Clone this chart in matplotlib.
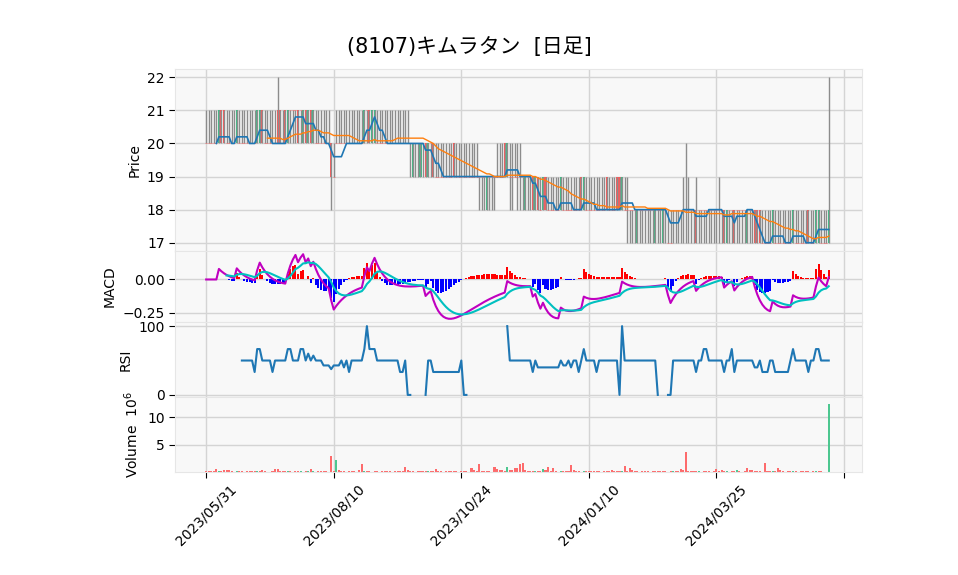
import matplotlib
matplotlib.use('Agg')
import matplotlib.pyplot as plt
import matplotlib.ticker as mticker
import numpy as np
import pandas as pd

plt.rcParams['font.family'] = ['DejaVu Sans', 'Noto Sans CJK JP']

title = '(8107)キムラタン  [日足]'
tick_pos = [0, 50, 100, 150, 200, 250]
tick_labels = ['2023/05/31', '2023/08/10', '2023/10/24', '2024/01/10', '2024/03/25', '']

# daily prices (yen)
opens = [
    20, 20, 20, 20, 20, 20, 21, 21, 20, 20, 20, 20, 20, 20, 20, 20, 20, 20, 20, 20,
    20, 20, 21, 20, 20, 20, 20, 20, 21, 21, 20, 21, 20, 21, 21, 21, 21, 21, 20, 21,
    20, 21, 20, 20, 20, 20, 20, 20, 20, 20, 19, 20, 20, 20, 20, 20, 20, 20, 20, 20,
    20, 20, 20, 21, 21, 20, 20, 20, 20, 20, 20, 20, 20, 20, 20, 20, 20, 20, 20, 20,
    20, 19, 20, 20, 19, 20, 20, 19, 20, 20, 19, 19, 19, 19, 19, 19, 19, 20, 19, 19,
    19, 19, 19, 19, 19, 19, 19, 19, 19, 19, 18, 19, 19, 19, 19, 19, 19, 20, 19, 19,
    19, 19, 19, 19, 19, 18, 19, 19, 19, 18, 19, 18, 18, 19, 18, 18, 18, 18, 18, 18,
    18, 18, 18, 18, 18, 18, 18, 19, 18, 18, 18, 18, 18, 18, 18, 18, 18, 19, 18, 18,
    18, 19, 19, 18, 18, 18, 18, 18, 18, 17, 18, 18, 18, 18, 18, 18, 17, 18, 18, 17,
    18, 17, 17, 18, 18, 18, 18, 18, 18, 18, 18, 18, 18, 18, 18, 18, 18, 18, 18, 18,
    18, 18, 18, 18, 17, 18, 18, 18, 18, 18, 18, 18, 17, 18, 18, 18, 18, 18, 17, 17,
    17, 17, 17, 17, 17, 17, 17, 17, 17, 17, 17, 17, 17, 17, 17, 17, 18, 17, 17, 17,
    17, 17, 17, 17, 17,
]
highs = [
    21, 21, 21, 21, 21, 21, 21, 21, 21, 21, 21, 21, 21, 21, 21, 21, 21, 21, 21, 21,
    21, 21, 21, 21, 21, 21, 21, 21, 22, 21, 21, 21, 21, 21, 21, 21, 21, 21, 21, 21,
    21, 21, 21, 21, 21, 21, 21, 21, 21, 20, 20, 21, 21, 21, 21, 21, 21, 21, 21, 21,
    21, 21, 21, 21, 21, 21, 21, 21, 21, 21, 21, 21, 21, 21, 21, 21, 21, 21, 21, 21,
    20, 20, 20, 20, 20, 20, 20, 20, 20, 20, 20, 20, 20, 20, 20, 20, 20, 20, 20, 20,
    20, 20, 20, 20, 20, 20, 20, 19, 19, 19, 19, 19, 19, 19, 20, 20, 20, 20, 20, 20,
    20, 20, 20, 20, 19, 19, 19, 19, 19, 19, 19, 19, 19, 19, 19, 19, 19, 19, 19, 19,
    19, 19, 19, 19, 19, 19, 19, 19, 19, 19, 19, 19, 19, 19, 19, 19, 19, 19, 19, 19,
    19, 19, 19, 19, 19, 19, 18, 18, 18, 18, 18, 18, 18, 18, 18, 18, 18, 18, 18, 18,
    18, 18, 18, 18, 18, 18, 18, 19, 20, 19, 18, 18, 19, 18, 18, 18, 18, 18, 18, 18,
    18, 19, 18, 18, 18, 18, 18, 18, 18, 18, 18, 18, 18, 18, 18, 18, 18, 18, 18, 18,
    18, 18, 18, 18, 18, 18, 18, 18, 18, 18, 18, 18, 18, 18, 18, 18, 18, 18, 18, 18,
    18, 18, 18, 18, 22,
]
lows = [
    20, 20, 20, 20, 20, 20, 20, 20, 20, 20, 20, 20, 20, 20, 20, 20, 20, 20, 20, 20,
    20, 20, 20, 20, 20, 20, 20, 20, 20, 20, 20, 20, 20, 20, 20, 20, 20, 20, 20, 20,
    20, 20, 20, 20, 20, 20, 20, 20, 20, 18, 19, 20, 20, 20, 20, 20, 20, 20, 20, 20,
    20, 20, 20, 20, 20, 20, 20, 20, 20, 20, 20, 20, 20, 20, 20, 20, 20, 20, 20, 20,
    19, 19, 19, 19, 19, 19, 19, 19, 19, 19, 19, 19, 19, 19, 19, 19, 19, 19, 19, 19,
    19, 19, 19, 19, 19, 19, 19, 18, 18, 18, 18, 18, 18, 18, 19, 19, 19, 19, 19, 18,
    18, 19, 18, 18, 18, 18, 18, 18, 18, 18, 18, 18, 18, 18, 18, 18, 18, 18, 18, 18,
    18, 18, 18, 18, 18, 18, 18, 18, 18, 18, 18, 18, 18, 18, 18, 18, 18, 18, 18, 18,
    18, 18, 18, 18, 18, 17, 17, 17, 17, 17, 17, 17, 17, 17, 17, 17, 17, 17, 17, 17,
    17, 17, 17, 17, 17, 17, 17, 17, 17, 17, 17, 17, 17, 17, 17, 17, 17, 17, 17, 17,
    17, 17, 17, 17, 17, 17, 17, 17, 17, 17, 17, 17, 17, 17, 17, 17, 17, 17, 17, 17,
    17, 17, 17, 17, 17, 17, 17, 17, 17, 17, 17, 17, 17, 17, 17, 17, 17, 17, 17, 17,
    17, 17, 17, 17, 17,
]
closes = [
    20, 20, 20, 20, 20, 21, 20, 20, 20, 20, 20, 20, 21, 20, 20, 20, 20, 20, 20, 20,
    21, 21, 20, 20, 20, 20, 20, 20, 20, 20, 20, 20, 21, 21, 21, 21, 20, 21, 21, 20,
    21, 20, 21, 20, 20, 20, 20, 20, 20, 19, 19, 20, 20, 20, 20, 20, 20, 20, 20, 20,
    20, 20, 21, 21, 20, 21, 21, 20, 20, 20, 20, 20, 20, 20, 20, 20, 20, 20, 20, 20,
    20, 20, 20, 20, 20, 20, 19, 20, 20, 19, 19, 19, 19, 19, 19, 19, 19, 19, 19, 19,
    19, 19, 19, 19, 19, 19, 19, 19, 19, 19, 19, 19, 19, 19, 19, 19, 19, 19, 20, 19,
    19, 19, 19, 19, 19, 19, 19, 19, 18, 19, 18, 18, 19, 18, 18, 18, 18, 18, 18, 19,
    18, 18, 18, 18, 18, 18, 18, 18, 19, 18, 18, 18, 18, 18, 18, 18, 18, 18, 18, 18,
    18, 18, 18, 19, 18, 18, 18, 18, 18, 18, 18, 18, 18, 18, 18, 18, 18, 18, 18, 18,
    18, 17, 17, 18, 18, 18, 18, 18, 18, 18, 18, 18, 17, 18, 18, 18, 18, 18, 18, 18,
    18, 18, 18, 17, 18, 18, 18, 17, 18, 18, 18, 18, 18, 18, 18, 17, 17, 17, 17, 17,
    17, 17, 18, 17, 17, 17, 17, 17, 17, 17, 18, 17, 17, 17, 17, 17, 17, 17, 17, 18,
    18, 17, 17, 17, 18,
]
# volume in millions of shares
volumes = [
    0.2, 0.2, 0.2, 0.25, 0.5, 0.3, 0.2, 0.35, 0.35, 0.35, 0.2, 0.12, 0.25, 0.3, 0.2, 0.12, 0.2, 0.3, 0.2, 0.3,
    0.2, 0.2, 0.35, 0.2, 0.12, 0.12, 0.2, 0.55, 0.55, 0.2, 0.3, 0.2, 0.2, 0.2, 0.12, 0.2, 0.2, 0.2, 0.12, 0.2,
    0.2, 0.55, 0.3, 0.12, 0.2, 0.3, 0.3, 0.2, 0.12, 3.0, 0.2, 2.25, 0.4, 0.2, 0.2, 0.12, 0.2, 0.3, 0.2, 0.12,
    0.45, 1.55, 0.2, 0.2, 0.2, 0.12, 0.2, 0.2, 0.12, 0.2, 0.3, 0.2, 0.2, 0.12, 0.2, 0.2, 0.3, 0.2, 0.9, 0.35,
    0.2, 0.2, 0.12, 0.2, 0.2, 0.2, 0.3, 0.2, 0.2, 0.2, 0.55, 0.2, 0.2, 0.12, 0.2, 0.2, 0.2, 0.3, 0.2, 0.12,
    0.3, 0.2, 0.2, 0.12, 0.7, 0.45, 0.2, 1.4, 0.3, 0.2, 0.2, 0.2, 0.12, 0.9, 0.55, 0.35, 0.35, 0.3, 0.9, 0.45,
    0.45, 0.7, 0.7, 1.4, 1.7, 0.35, 0.2, 0.2, 0.3, 0.2, 0.2, 0.2, 0.55, 0.35, 0.9, 0.2, 0.75, 0.2, 0.12, 0.3,
    0.2, 0.2, 0.2, 1.3, 0.4, 0.2, 0.2, 0.12, 0.2, 0.2, 0.3, 0.2, 0.2, 0.3, 0.2, 0.12, 0.2, 0.2, 0.2, 0.4,
    0.2, 0.2, 0.2, 0.3, 1.1, 0.2, 0.8, 0.4, 0.2, 0.2, 0.12, 0.2, 0.2, 0.2, 0.12, 0.2, 0.2, 0.2, 0.2, 0.3,
    0.2, 0.12, 0.2, 0.2, 0.2, 0.2, 0.55, 0.4, 3.75, 0.3, 0.3, 0.3, 0.3, 0.3, 0.12, 0.2, 0.2, 0.2, 0.12, 0.2,
    0.55, 0.2, 0.4, 0.2, 0.2, 0.12, 0.2, 0.2, 0.4, 0.2, 0.12, 0.2, 0.7, 0.4, 0.4, 0.2, 0.2, 0.2, 0.12, 1.7,
    0.2, 0.2, 0.2, 0.2, 0.75, 0.4, 0.2, 0.12, 0.2, 0.2, 0.2, 0.2, 0.12, 0.2, 0.2, 0.2, 0.2, 0.12, 0.2, 0.2,
    0.2, 0.2, 0.12, 0.12, 12.4,
]

UP = '#3dbf86'
DOWN = '#ff5a5a'
VOL_UP = '#4dc790'
VOL_DOWN = '#fd6b6c'
FACE = '#f8f8f8'
GRID = '#d4d4d4'

df = pd.DataFrame({'open': opens, 'high': highs, 'low': lows, 'close': closes, 'volume': volumes})
x = np.arange(len(df))
close = df['close']

# indicators
sma5 = close.rolling(5).mean()
sma25 = close.rolling(25).mean()
macd = close.ewm(span=12, adjust=False).mean() - close.ewm(span=26, adjust=False).mean()
signal = macd.ewm(span=9, adjust=False, min_periods=9).mean()
hist = macd - signal
delta = close.diff()
gain = delta.clip(lower=0).rolling(14).mean()
loss = (-delta.clip(upper=0)).rolling(14).mean()
rsi = 100 * gain / (gain + loss)

fig = plt.figure(figsize=(9.58, 5.75), dpi=100)
L, W = 0.1827, 0.717
ax_p = fig.add_axes([L, 0.5635, W, 0.3165])
ax_m = fig.add_axes([L, 0.4400, W, 0.1235], sharex=ax_p)
ax_r = fig.add_axes([L, 0.3096, W, 0.1304], sharex=ax_p)
ax_v = fig.add_axes([L, 0.1791, W, 0.1304], sharex=ax_p)

for ax in (ax_p, ax_m, ax_r, ax_v):
    ax.set_facecolor(FACE)
    ax.grid(True, color=GRID, lw=1)
    ax.set_axisbelow(True)
    for s in ax.spines.values():
        s.set_color('#e6e6e6')
    ax.tick_params(axis='y', labelsize=10, length=4)
    ax.tick_params(axis='x', length=0, labelbottom=False)

# candles
up = df['close'] > df['open']
down = df['close'] < df['open']
doji = df['close'] == df['open']
ax_p.vlines(x, df['low'], df['high'], color='#8c8c8c', lw=1)
ax_p.bar(x[up], (df['close'] - df['open'])[up], bottom=df['open'][up], width=0.8, color=UP)
ax_p.bar(x[down], (df['open'] - df['close'])[down], bottom=df['close'][down], width=0.8, color=DOWN)
ax_p.hlines(df['close'][doji], x[doji] - 0.4, x[doji] + 0.4, color=DOWN, lw=0.6, alpha=0.6)
ax_p.plot(x, sma5, color='#1f77b4', lw=1.2)
ax_p.plot(x, sma25, color='#ff7f0e', lw=1.0)
lo, hi = min(lows), max(highs)
pad = 0.05 * (hi - lo)
ax_p.set_ylim(lo - pad, hi + pad)
ax_p.set_ylabel('Price', fontsize=10)

# MACD
ax_m.bar(x, hist.where(hist >= 0), width=0.8, color='red')
ax_m.bar(x, hist.where(hist < 0), width=0.8, color='blue')
ax_m.plot(x, macd, color='#c000c0', lw=1.5)
ax_m.plot(x, signal, color='#00c0c0', lw=1.5)
ax_m.set_yticks([-0.25, 0.0])
ax_m.yaxis.set_major_formatter(mticker.FuncFormatter(lambda v, p: f'{v:.2f}'.replace('-', '\u2212')))
ax_m.set_ylabel('MACD', fontsize=10)

# RSI
ax_r.plot(x, rsi, color='#1f77b4', lw=1.5)
ax_r.set_yticks([0, 100])
ax_r.set_ylim(-3, 106)
ax_r.set_ylabel('RSI', fontsize=10)

# volume (colour by change from previous close)
vcol = np.where(close.diff() > 0, VOL_UP, VOL_DOWN)
ax_v.bar(x, df['volume'], width=0.8, color=vcol)
ax_v.set_ylim(0.3 * min(volumes), 1.1 * max(volumes))
ax_v.set_yticks([5, 10])
ax_v.set_ylabel('Volume  $10^{6}$', fontsize=10)

ax_v.set_xticks(tick_pos)
ax_v.set_xticklabels(tick_labels, rotation=45, ha='center', fontsize=10)
ax_v.tick_params(axis='x', length=4, labelbottom=True)
ax_p.set_xlim(-12.2, 257)

fig.suptitle(title, x=0.49, y=0.935, fontsize=15)
fig.savefig('out.png', dpi=100)
